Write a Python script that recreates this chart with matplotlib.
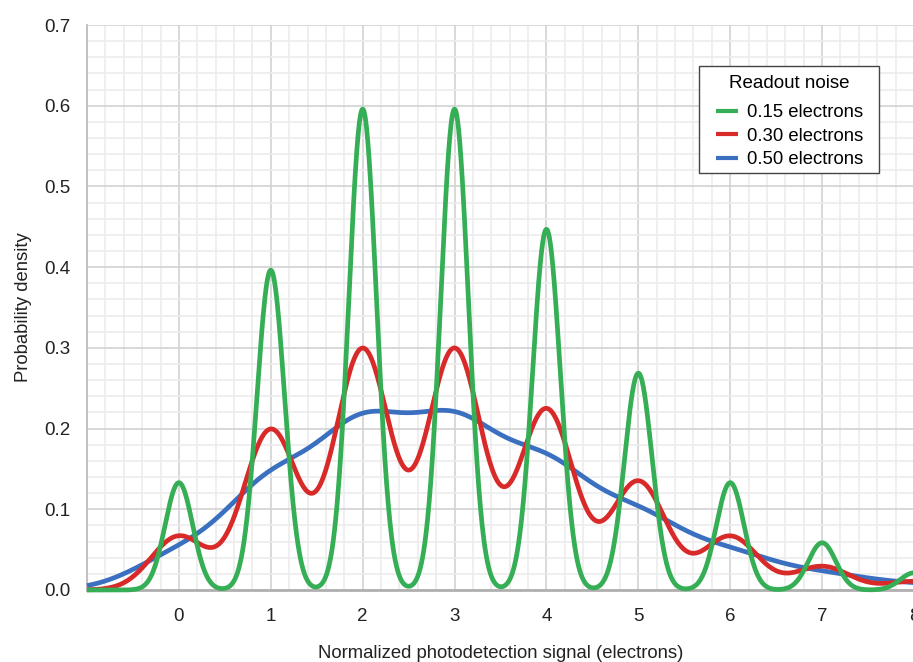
import numpy as np
import matplotlib.pyplot as plt
from matplotlib.patches import Rectangle
from matplotlib.ticker import MultipleLocator

OUTPUT_PATH = "out.png"

# Weight of each electron count (read from the peak heights of the sharpest curve)
counts = [0, 1, 2, 3, 4, 5, 6, 7, 8, 9, 10]
weights = [0.050, 0.149, 0.224, 0.224, 0.168, 0.101, 0.050, 0.022, 0.008, 0.003, 0.001]

# Readout noise levels (electrons) and how they are shown
noise_levels = [0.15, 0.30, 0.50]
labels = ["0.15 electrons", "0.30 electrons", "0.50 electrons"]
colors = ["#35ae55", "#d92a2a", "#3b70c0"]

x_ticks = [0, 1, 2, 3, 4, 5, 6, 7, 8]
y_ticks = [0.0, 0.1, 0.2, 0.3, 0.4, 0.5, 0.6, 0.7]


def density(x, sigma):
    """Sum of gaussians centred on each count, weighted by its probability"""
    total = np.zeros_like(x)
    for k, w in zip(counts, weights):
        total += w * np.exp(-0.5 * ((x - k) / sigma) ** 2) / (np.sqrt(2 * np.pi) * sigma)
    return total


plt.rcParams["font.family"] = ["Liberation Sans", "DejaVu Sans"]

fig = plt.figure(figsize=(9.13, 6.62), dpi=100)
ax = fig.add_axes([87 / 913, 72 / 662, 827 / 913, 565 / 662])

x = np.linspace(-1, 8, 2000)
lines = {}
# blue drawn first, green on top
for sigma, label, color, z in zip(noise_levels, labels, colors, [5, 4, 3]):
    (ln,) = ax.plot(x, density(x, sigma), color=color, lw=3.4, label=label,
                    zorder=z, clip_on=False, solid_capstyle="butt")
    lines[label] = ln

ax.set_xlim(-1, 8)
ax.set_ylim(0, 0.7)
ax.set_xticks(x_ticks)
ax.set_yticks(y_ticks)
ax.set_yticklabels([f"{v:.1f}" for v in y_ticks])
ax.xaxis.set_minor_locator(MultipleLocator(0.2))
ax.yaxis.set_minor_locator(MultipleLocator(0.02))
ax.tick_params(which="both", length=0, labelsize=13.5, colors="#222222")
ax.tick_params(axis="x", pad=13)
ax.tick_params(axis="y", pad=12)

ax.grid(True, which="major", color="#d2d2d2", lw=1.2, zorder=0)
ax.grid(True, which="minor", color="#ececec", lw=1.2, zorder=0)
ax.set_axisbelow(True)

for side in ["top", "right"]:
    ax.spines[side].set_visible(False)
ax.spines["left"].set_color("#b8b8b8")
ax.spines["left"].set_linewidth(1.2)
ax.spines["bottom"].set_color("#b0b0b0")
ax.spines["bottom"].set_linewidth(2)

ax.set_xlabel("Normalized photodetection signal (electrons)", fontsize=13.3, color="#222222", labelpad=14)
ax.set_ylabel("Probability density", fontsize=13.3, color="#222222", labelpad=9)

# Legend box drawn separately so its padding can match the original
ax.add_patch(Rectangle((0.740, 0.738), 0.2177, 0.1894, transform=ax.transAxes,
                       facecolor="white", edgecolor="#444444", lw=1, zorder=6, clip_on=False))

handles = [lines[l] for l in labels]
leg = ax.legend(handles, labels, title="Readout noise", loc="upper left",
                bbox_to_anchor=(0.7497, 0.928), borderaxespad=0,
                fontsize=13.3, title_fontsize=13.5, frameon=False,
                handlelength=1.2, handletextpad=0.45, borderpad=0.5,
                labelspacing=0.35)
leg.set_zorder(7)
leg._legend_box.sep = 9
for h in leg.legend_handles:
    h.set_linewidth(3)

fig.savefig(OUTPUT_PATH, dpi=100)
print(f"Saved plot to {OUTPUT_PATH}")
